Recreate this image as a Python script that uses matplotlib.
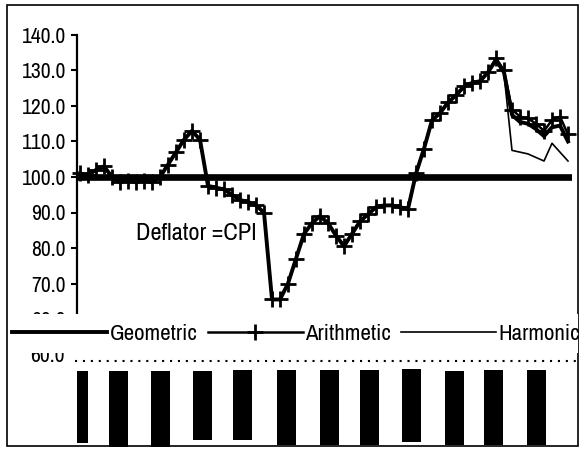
import numpy as np
import matplotlib
matplotlib.use("Agg")
import matplotlib.pyplot as plt
from matplotlib.patches import Rectangle
from matplotlib.transforms import blended_transform_factory

plt.rcParams['font.family'] = ['Archivo Narrow', 'DejaVu Sans']

# index values, one per period
periods = np.arange(62)
arithmetic = [101.0, 100.5, 102.0, 103.0, 100.0, 98.5, 99.0, 98.5, 99.0, 98.5,
              100.0, 103.5, 107.0, 110.5, 113.0, 110.5, 97.5, 97.0, 96.5, 95.0,
              93.5, 93.0, 92.0, 90.0, 65.5, 65.5, 70.0, 77.0, 84.0, 87.0,
              89.0, 87.0, 83.5, 80.5, 84.0, 87.5, 89.5, 91.5, 92.0, 92.0,
              91.5, 91.0, 101.0, 108.0, 116.0, 118.0, 121.0, 123.0, 125.5, 126.5,
              127.0, 129.5, 133.5, 130.0, 119.0, 117.0, 116.5, 115.0, 113.0, 116.0,
              117.0, 112.0]
geometric = arithmetic[:52] + [133.0, 129.5, 117.5, 115.5, 115.0, 113.5, 111.5, 114.0,
                               114.5, 110.0]
harmonic = arithmetic[:52] + [132.5, 129.0, 107.5, 107.0, 106.5, 105.5, 104.5, 109.5,
                              107.0, 104.5]
series_names = ['Geometric', 'Arithmetic', 'Harmonic']

y_ticks = [60, 70, 80, 90, 100, 110, 120, 130, 140]

# bars of the lower panel (partly cut off in the scan)
bar_pos = [-0.2, 4.8, 10.1, 15.3, 20.3, 25.8, 31.2, 36.2, 41.4, 46.8, 51.7, 57.1]
bar_top = [57.2, 57.2, 57.2, 57.2, 57.5, 57.5, 57.5, 57.5, 57.7, 57.2, 57.5, 57.5]
bar_bottom = [36.8, 35.6, 35.6, 37.7, 37.7, 36.2, 36.2, 36.2, 37.1, 36.2, 36.2, 36.2]


def fx(px):
  return px / 580.0


def fy(py):
  return 1 - py / 450.0


fig = plt.figure(figsize=(5.8, 4.5), dpi=100)

ax = fig.add_axes([fx(77), fy(319), fx(572) - fx(77), fy(35) - fy(319)])
ax.set_xlim(-0.375, 61.5)
ax.set_ylim(60, 140)
for s in ['top', 'right', 'bottom']:
  ax.spines[s].set_visible(False)
ax.spines['left'].set_linewidth(1.6)
ax.set_xticks([])
ax.set_yticks(y_ticks)
ax.set_yticklabels(['%.1f' % v for v in y_ticks])
ax.tick_params(axis='y', direction='out', length=4, width=1.5, pad=4, labelsize=15.5)

ax.axhline(100, color='k', lw=4.8, zorder=2)
h_line, = ax.plot(periods, harmonic, color='k', lw=1.2, zorder=3, clip_on=False)
g_line, = ax.plot(periods, geometric, color='k', lw=2.8, zorder=4, clip_on=False)
a_line, = ax.plot(periods, arithmetic, color='k', lw=1.8, marker='+', ms=12, mew=2,
                  zorder=5, clip_on=False)
ax.text(14.6, 84.2, 'Deflator =CPI', fontsize=17.5, ha='center', va='center')

# lower panel
ax2 = fig.add_axes([fx(77), 0, fx(572) - fx(77), fy(361)])
ax2.set_xlim(-0.375, 61.5)
ax2.set_ylim(60 - 89 / 3.54, 60)
ax2.axis('off')
ax2.bar(bar_pos, np.array(bar_top) - np.array(bar_bottom), bottom=bar_bottom,
        width=2.4, color='k')
ax2.axhline(60, xmin=-0.005, xmax=1.01, color='k', lw=1.5, ls=(0, (1, 2.8)), clip_on=False)
trans = blended_transform_factory(ax2.transAxes, ax2.transData)
ax2.text(-0.026, 59.7, '60.0', transform=trans, ha='right', va='baseline',
         fontsize=15.5)

# page border and the white legend band
fig.add_artist(Rectangle((fx(7), fy(446)), fx(578) - fx(7), fy(5) - fy(446),
                         transform=fig.transFigure, fill=False, lw=1.2,
                         edgecolor='k', zorder=3))
fig.add_artist(Rectangle((fx(8), fy(353)), fx(578) - fx(8), fy(314) - fy(353),
                         transform=fig.transFigure, facecolor='white',
                         edgecolor='none', zorder=4))
fig.legend([g_line, a_line, h_line], series_names, loc='center left',
           bbox_to_anchor=(fx(12), fy(334)), ncol=3, frameon=False, fontsize=16.5,
           handlelength=4.15, handletextpad=0.1, columnspacing=0.45, numpoints=1,
           borderpad=0, borderaxespad=0)

fig.savefig('out.png', dpi=100)
